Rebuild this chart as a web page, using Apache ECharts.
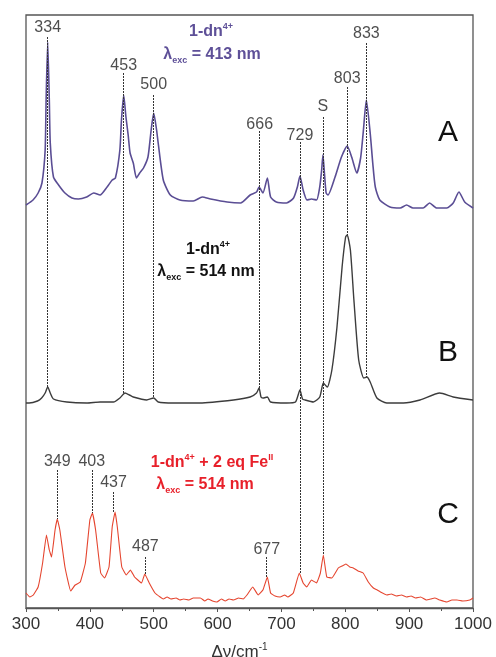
<!DOCTYPE html>
<html>
<head>
<meta charset="utf-8">
<script src="https://cdn.jsdelivr.net/npm/echarts@6/dist/echarts.min.js"></script>
<style>
  html, body { margin: 0; padding: 0; background: #fff; }
  #chart { width: 496px; height: 657px; }
</style>
</head>
<body>
<div id="chart"></div>
<script>
// Raman shift axis, cm-1
var xTicks = [300, 400, 500, 600, 700, 800, 900, 1000];

// trace A: 1-dn4+, 413 nm (intensity above its own baseline, arbitrary units)
var wnA = [300, 311, 319, 325, 330, 331.5, 334, 336.5, 338, 343, 351, 361, 372, 382, 395, 406, 416, 427, 435, 440,
  447, 449.5, 453, 456.5, 460, 463, 468, 473, 478, 484, 491, 496, 500, 504.5, 507, 515, 526, 541, 562, 576,
  589, 615, 636, 651, 661, 665, 671, 678, 683, 692, 708, 719, 725, 729, 734, 740, 747, 755, 760, 763,
  765, 767, 770, 773, 784, 794, 803, 810, 818, 824, 828, 833, 839, 843, 847, 854, 870, 886, 896, 906,
  922, 932, 943, 959, 969, 978, 987, 1000];
var intA = [3, 8, 15, 25, 58, 108, 166, 108, 65, 31, 23, 15, 10, 9, 11, 15, 13, 21, 28, 30,
  58, 88, 113, 91, 73, 55, 45, 30, 35, 40, 51, 78, 95, 78, 65, 28, 13, 8, 7, 11,
  9, 6, 5, 13, 16, 21, 15, 30, 11, 6, 5, 10, 21, 32, 18, 8, 9, 8, 21, 38,
  53, 38, 15, 13, 31, 51, 62, 51, 35, 50, 75, 108, 75, 45, 21, 8, 1, 0, 3, 0,
  0, 5, 0, 0, 5, 16, 6, 0];

// trace B: 1-dn4+, 514 nm
var wnB = [300, 305, 318, 324.5, 330, 334, 338, 343, 364, 395, 416, 437, 447, 455, 462, 468, 489, 500, 507, 531,
  572, 625, 651, 661, 665, 668, 671, 678, 683, 708, 722, 729, 733, 737, 750, 760, 765.6, 770, 772, 779,
  787, 795, 800.5, 803, 808, 813.5, 821, 829, 834, 839, 849.5, 865, 891, 917, 948, 969, 1000];
var intB = [0, 0, 2, 5, 10, 16, 10, 4, 1, 0, 1, 1, 5, 10, 8, 6, 3, 5, 1, 0,
  0, 3, 6, 10, 15, 6, 5, 6, 1, 0, 1, 13, 4, 3, 1, 6, 20, 17, 16, 33,
  76, 136, 166, 168, 153, 103, 43, 25, 26, 21, 5, 0, 0, 3, 10, 6, 3];

// trace C: 1-dn4+ + 2 eq Fe(II), 514 nm
var wnC = [300, 306, 311.5, 319, 326, 332, 336.5, 340, 345.5, 349, 353, 361, 370, 377, 385, 393, 400, 404, 409, 417,
  423, 430, 435, 439.5, 443, 450, 457, 463.5, 470, 481, 486, 493, 502, 510, 515, 521, 527, 535, 541, 547,
  555, 562, 573, 580, 585, 592, 599, 606, 612, 618, 625, 633, 640, 646, 655, 663.7, 671, 678, 683, 690,
  698, 705, 710, 718.6, 728, 734, 739.5, 747, 755, 761, 765.6, 771, 779, 789, 795, 801, 807, 812.5, 820, 828,
  836, 844, 850, 855, 865, 872, 880, 888, 896, 903, 910, 918, 927, 934, 940, 948, 959, 967, 975, 984,
  995, 1000];
var intC = [9, 5, 7, 15, 39, 67, 52, 45, 72, 83, 72, 35, 11, 17, 20, 39, 82, 89, 72, 29,
  24, 35, 75, 90, 75, 35, 27, 32, 25, 19, 28, 19, 9, 5, 3, 5, 3, 4, 2, 3,
  2, 4, 4, 1, 3, 1, 0, 3, 1, 3, 2, 4, 3, 7, 15, 7, 12, 25, 9, 6,
  5, 7, 5, 9, 29, 19, 15, 22, 19, 29, 47, 25, 24, 34, 36, 38, 35, 34, 31, 29,
  20, 14, 12, 10, 7, 8, 6, 7, 5, 6, 4, 5, 2, 3, 4, 2, 0, 2, 2, 1,
  2, 4];

// vertical offsets of the three stacked traces
var offsets = [400, 205, 6];

// peak markers: position, label, label height, dotted line top and bottom
var peakWn = [334, 453, 500, 666, 729, 765, 803, 833, 349, 403, 437, 487, 677];
var peakText = ['334', '453', '500', '666', '729', 'S', '803', '833', '349', '403', '437', '487', '677'];
var peakLabelY = [580, 542, 523, 483, 472, 501, 529, 574, 146, 146, 125, 61, 58];
var peakTop = [571, 535, 513, 477, 466, 491, 521, 565, 138, 138, 116, 51, 51];
var peakBottom = [221, 215, 210, 220, 35, 53, 373, 231, 89, 95, 96, 34, 31];

function build(wn, ints, off) {
  return wn.map(function (x, i) { return [x, ints[i] + off]; });
}

var myChart = echarts.init(document.getElementById('chart'), null, { renderer: 'canvas' });
var fontFam = '"Liberation Sans", Arial, sans-serif';

var markData = peakWn.map(function (x, i) {
  return [{ coord: [x, peakTop[i]] }, { coord: [x, peakBottom[i]] }];
});
var labelData = peakWn.map(function (x, i) {
  return { value: [x, peakLabelY[i]], name: peakText[i] };
});

function note(text, x, y, color) {
  return {
    type: 'text', x: x, y: y,
    style: {
      text: text, align: 'center', verticalAlign: 'middle',
      fill: color, font: 'bold 16px ' + fontFam,
      rich: {
        b: { fontSize: 16, fontWeight: 'bold', fill: color, fontFamily: fontFam, lineHeight: 20, verticalAlign: 'middle' },
        sup: { fontSize: 9, fontWeight: 'bold', fill: color, fontFamily: fontFam, lineHeight: 20, verticalAlign: 'top' },
        sub: { fontSize: 9, fontWeight: 'bold', fill: color, fontFamily: fontFam, lineHeight: 20, verticalAlign: 'bottom' }
      }
    }
  };
}
function letter(t, x, y) {
  return {
    type: 'text', x: x, y: y,
    style: { text: t, align: 'center', verticalAlign: 'middle', fill: '#111', font: '30px ' + fontFam }
  };
}

var option = {
  animation: false,
  backgroundColor: '#fff',
  grid: {
    left: 26, right: 23, top: 15, bottom: 49, outerBoundsMode: 'none',
    show: true, borderColor: '#555', borderWidth: 1.3
  },
  xAxis: {
    type: 'value', min: 300, max: 1000, interval: 100,
    name: 'Δν/cm{sup|-1}', nameLocation: 'middle', nameGap: 34,
    nameTextStyle: {
      fontSize: 17, color: '#333', fontFamily: fontFam, padding: [0, 20, 0, 0],
      rich: { sup: { fontSize: 10, color: '#333', verticalAlign: 'top', lineHeight: 20, fontFamily: fontFam } }
    },
    axisLine: { lineStyle: { color: '#555', width: 1.3 } },
    axisTick: { length: 4, lineStyle: { color: '#555' } },
    minorTick: { show: true, splitNumber: 2, length: 3, lineStyle: { color: '#555' } },
    axisLabel: {
      fontSize: 17, color: '#333', fontFamily: fontFam, margin: 8,
      formatter: function (v) { return String(v); }
    },
    splitLine: { show: false }
  },
  yAxis: { type: 'value', min: 0, max: 593, show: false },
  series: [
    {
      type: 'line', data: build(wnA, intA, offsets[0]), showSymbol: false, smooth: 0.2,
      lineStyle: { color: '#5a4d94', width: 1.6 }, z: 3
    },
    {
      type: 'line', data: build(wnB, intB, offsets[1]), showSymbol: false, smooth: 0.2,
      lineStyle: { color: '#3c3c3c', width: 1.4 }, z: 3
    },
    {
      type: 'line', data: build(wnC, intC, offsets[2]), showSymbol: false, smooth: 0.1,
      lineStyle: { color: '#e5452f', width: 1.1 }, z: 3
    },
    {
      type: 'scatter', data: labelData, symbolSize: 0, z: 4,
      label: {
        show: true, position: 'inside', formatter: '{b}',
        fontSize: 16, color: '#222', fontFamily: fontFam
      },
      markLine: {
        silent: true, symbol: 'none', animation: false,
        label: { show: false },
        lineStyle: { type: [2, 1], color: '#333', width: 1 },
        data: markData
      }
    }
  ],
  graphic: [
    note('{b|1-dn}{sup|4+}', 211, 32, '#5e5098'),
    note('{b|λ}{sub|exc}{b| = 413 nm}', 212, 55, '#5e5098'),
    note('{b|1-dn}{sup|4+}', 208, 250, '#111'),
    note('{b|λ}{sub|exc}{b| = 514 nm}', 206, 272, '#111'),
    note('{b|1-dn}{sup|4+}{b| + 2 eq Fe}{sup|II}', 212, 463, '#e8202a'),
    note('{b|λ}{sub|exc}{b| = 514 nm}', 205, 485, '#e8202a'),
    letter('A', 448, 133),
    letter('B', 448, 353),
    letter('C', 448, 515)
  ]
};

myChart.setOption(option);
</script>
</body>
</html>
